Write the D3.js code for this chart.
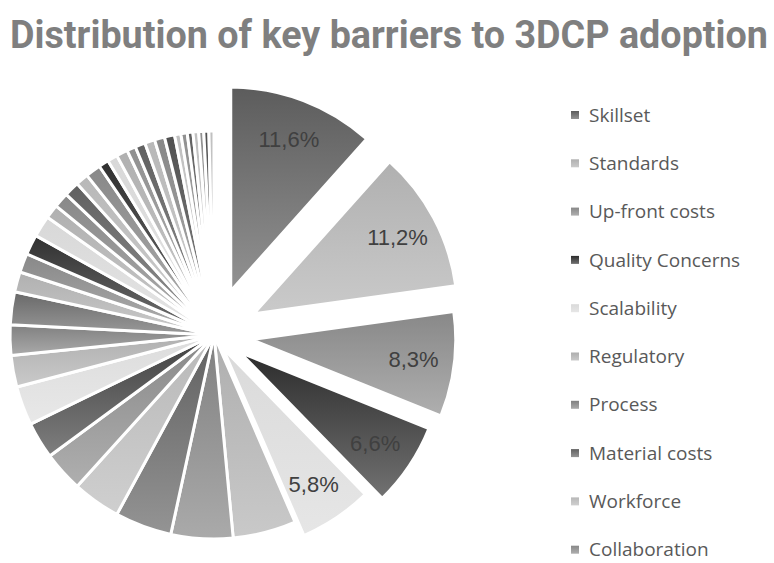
<!DOCTYPE html>
<html>
<head>
<meta charset="utf-8">
<script src="https://cdn.jsdelivr.net/npm/d3@7"></script>
<style>
  body { margin: 0; background: #fff; }
  svg { display: block; }
</style>
</head>
<body>
<svg id="chart" width="774" height="563"></svg>
<script>
// ---- data ----
const chartTitle = "Distribution of key barriers to 3DCP adoption";

// barriers listed in the legend (first ten slices, clockwise from 12 o'clock)
const categories = [
  "Skillset", "Standards", "Up-front costs", "Quality Concerns", "Scalability",
  "Regulatory", "Process", "Material costs", "Workforce", "Collaboration"
];

// share of mentions (%) for every barrier slice, clockwise
const shares = [
  11.6, 11.2, 8.3, 6.6, 5.8, 5.0, 4.9, 4.5, 3.8, 3.2,
  2.9, 3.1, 2.5, 2.4, 2.6, 1.6, 1.5, 1.6, 1.7, 1.1,
  1.2, 1.2, 1.0, 1.2, 0.8, 0.8, 0.9, 0.7, 0.8, 0.8,
  0.8, 0.8, 0.5, 0.5, 0.45, 0.45, 0.4, 0.4, 0.4
];

// ---- styling ----
// top grey level of each slice gradient (bottom is a lighter tint of it)
const sliceShades = [
  0x5c, 0xb0, 0x88, 0x2c, 0xda, 0xae, 0x80, 0x60, 0xb8, 0x88,
  0x40, 0xdc, 0xb0, 0x80, 0x68, 0xb0, 0x88, 0x30, 0xd8, 0xb0,
  0x88, 0x60, 0xb8, 0x88, 0x30, 0xd8, 0xb0, 0x90, 0x60, 0xb8,
  0x88, 0x50, 0xc0, 0x90, 0x60, 0xc0, 0x90, 0x50, 0xc0
];
// pull-out distance (px) of the highlighted slices
const explode = [47, 45, 38, 31, 16];

const cx = 214, cy = 335, R = 204, labelR = 163;

const svg = d3.select("#chart");
const defs = svg.append("defs");

const grey = v => d3.rgb(v, v, v).formatHex();
const tint = v => Math.round(v + 0.33 * (255 - v));

sliceShades.forEach((v, i) => {
  const g = defs.append("linearGradient")
    .attr("id", "grad" + i)
    .attr("x1", 0).attr("y1", 0).attr("x2", 0).attr("y2", 1);
  g.append("stop").attr("offset", "0%").attr("stop-color", grey(v));
  g.append("stop").attr("offset", "100%").attr("stop-color", grey(tint(v)));
});

// ---- title ----
svg.append("text")
  .attr("x", 389).attr("y", 48)
  .attr("text-anchor", "middle")
  .attr("font-family", "Roboto, 'Liberation Sans', sans-serif")
  .attr("font-weight", 700)
  .attr("font-size", 38)
  .attr("fill", "#7f7f7f")
  .attr("textLength", 758)
  .attr("lengthAdjust", "spacingAndGlyphs")
  .text(chartTitle);

// ---- pie ----
const total = d3.sum(shares);
const arcs = d3.pie().sort(null).value(d => d)(shares);
const arc = d3.arc().innerRadius(0).outerRadius(R);
const labelArc = d3.arc().innerRadius(labelR).outerRadius(labelR);

const pieG = svg.append("g").attr("transform", `translate(${cx},${cy})`);

const slice = pieG.selectAll("g.slice")
  .data(arcs)
  .join("g")
  .attr("class", "slice")
  .attr("transform", (d, i) => {
    const off = explode[i] || 0;
    const a = (d.startAngle + d.endAngle) / 2;
    return `translate(${off * Math.sin(a)},${-off * Math.cos(a)})`;
  });

slice.append("path")
  .attr("d", arc)
  .attr("fill", (d, i) => `url(#grad${i})`)
  .attr("stroke", "#fff")
  .attr("stroke-width", 3)
  .attr("stroke-linejoin", "round");

slice.filter((d, i) => i < explode.length)
  .append("text")
  .attr("transform", d => `translate(${labelArc.centroid(d)})`)
  .attr("text-anchor", "middle")
  .attr("dy", "0.36em")
  .attr("font-family", "'Liberation Sans', Arial, sans-serif")
  .attr("font-size", 22)
  .attr("fill", "#404040")
  .text(d => (d.value / total * 100).toFixed(1).replace(".", ",") + "%");

// ---- legend ----
const legend = svg.append("g").attr("transform", "translate(571,115)");
const item = legend.selectAll("g.item")
  .data(categories)
  .join("g")
  .attr("class", "item")
  .attr("transform", (d, i) => `translate(0,${i * 48.3})`);

item.append("rect")
  .attr("x", 0).attr("y", -4)
  .attr("width", 8).attr("height", 8)
  .attr("fill", (d, i) => `url(#grad${i})`);

item.append("text")
  .attr("x", 18).attr("y", 0)
  .attr("dy", "0.35em")
  .attr("font-family", "'Open Sans', 'Noto Sans', sans-serif")
  .attr("font-size", 19)
  .attr("fill", "#595959")
  .text(d => d);
</script>
</body>
</html>
